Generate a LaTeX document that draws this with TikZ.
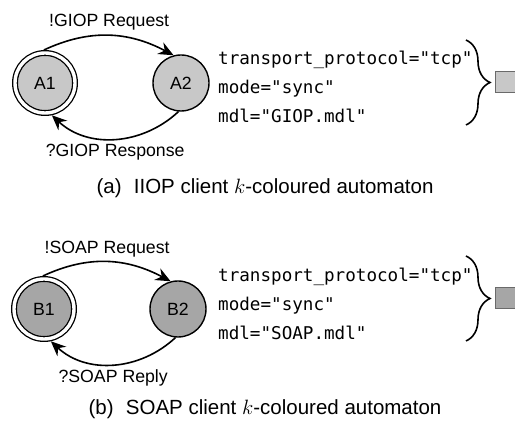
\documentclass[tikz,border=0pt]{standalone}
\usepackage{fontspec}
\setmainfont{Liberation Sans}
\setmonofont{DejaVu Sans Mono}
\usetikzlibrary{arrows.meta,decorations.pathreplacing}

\definecolor{lightstate}{HTML}{C8C8C8}
\definecolor{darkstate}{HTML}{A6A6A6}
\definecolor{boxline}{HTML}{6A6A6A}
\newcommand{\lblsize}{\fontsize{17.7}{21}\selectfont}

\begin{document}
\begin{tikzpicture}[x=1pt, y=1pt,
  state/.style={circle, draw, line width=1.4pt, minimum size=56pt, inner sep=0pt, font=\lblsize},
  startstate/.style={state, double, line width=1.3pt, double distance=3.4pt, minimum size=60pt, outer sep=3pt},
  trans/.style={line width=1.6pt, -{Stealth[length=15pt, width=13pt, inset=5pt]}},
  code/.style={font=\fontsize{17.6}{29}\ttfamily, align=left, anchor=west, inner sep=0pt},
  codebrace/.style={decorate, decoration={brace, amplitude=24pt, aspect=0.5}, line width=1.6pt},
  colourbox/.style={draw=boxline, line width=1pt, minimum size=21pt, inner sep=0pt},
  caption/.style={font=\fontsize{20.5}{24}\selectfont}]

\useasboundingbox (0,0) rectangle (515,425);

% (a) IIOP client
\node[startstate, fill=lightstate] (A1) at (45,342) {A1};
\node[state, fill=lightstate] (A2) at (181,342) {A2};
\draw[trans] (A1.92) to[out=25, in=152] node[above=1pt, font=\lblsize] {!GIOP Request} (A2.105);
\draw[trans] (A2.265) to[out=223, in=-43] node[below=1pt, font=\lblsize] {?GIOP Response} (A1.-78);
\node[code] (codeA) at (218,338) {transport\textunderscore protocol="tcp"\\mode="sync"\\mdl="GIOP.mdl"};
\coordinate (braceAtop) at (466,385);
\coordinate (braceAbot) at (466,300);
\draw[codebrace] (braceAtop) -- (braceAbot);
\node[colourbox, fill=lightstate] (boxA) at (505.5,342.5) {};
\node[caption] (capA) at (265,237) {(a)\hspace{0.6em}IIOP client $k$-coloured automaton};

% (b) SOAP client
\node[startstate, fill=darkstate] (B1) at (44,116) {B1};
\node[state, fill=darkstate] (B2) at (178,116) {B2};
\draw[trans] (B1.92) to[out=25, in=152] node[above=1pt, font=\lblsize] {!SOAP Request} (B2.105);
\draw[trans] (B2.265) to[out=223, in=-43] node[below=1pt, font=\lblsize] {?SOAP Reply} (B1.-78);
\node[code] (codeB) at (218,121) {transport\textunderscore protocol="tcp"\\mode="sync"\\mdl="SOAP.mdl"};
\coordinate (braceBtop) at (466,169);
\coordinate (braceBbot) at (466,84);
\draw[codebrace] (braceBtop) -- (braceBbot);
\node[colourbox, fill=darkstate] (boxB) at (505.5,126.5) {};
\node[caption] (capB) at (265,16) {(b)\hspace{0.6em}SOAP client $k$-coloured automaton};

\end{tikzpicture}
\end{document}
